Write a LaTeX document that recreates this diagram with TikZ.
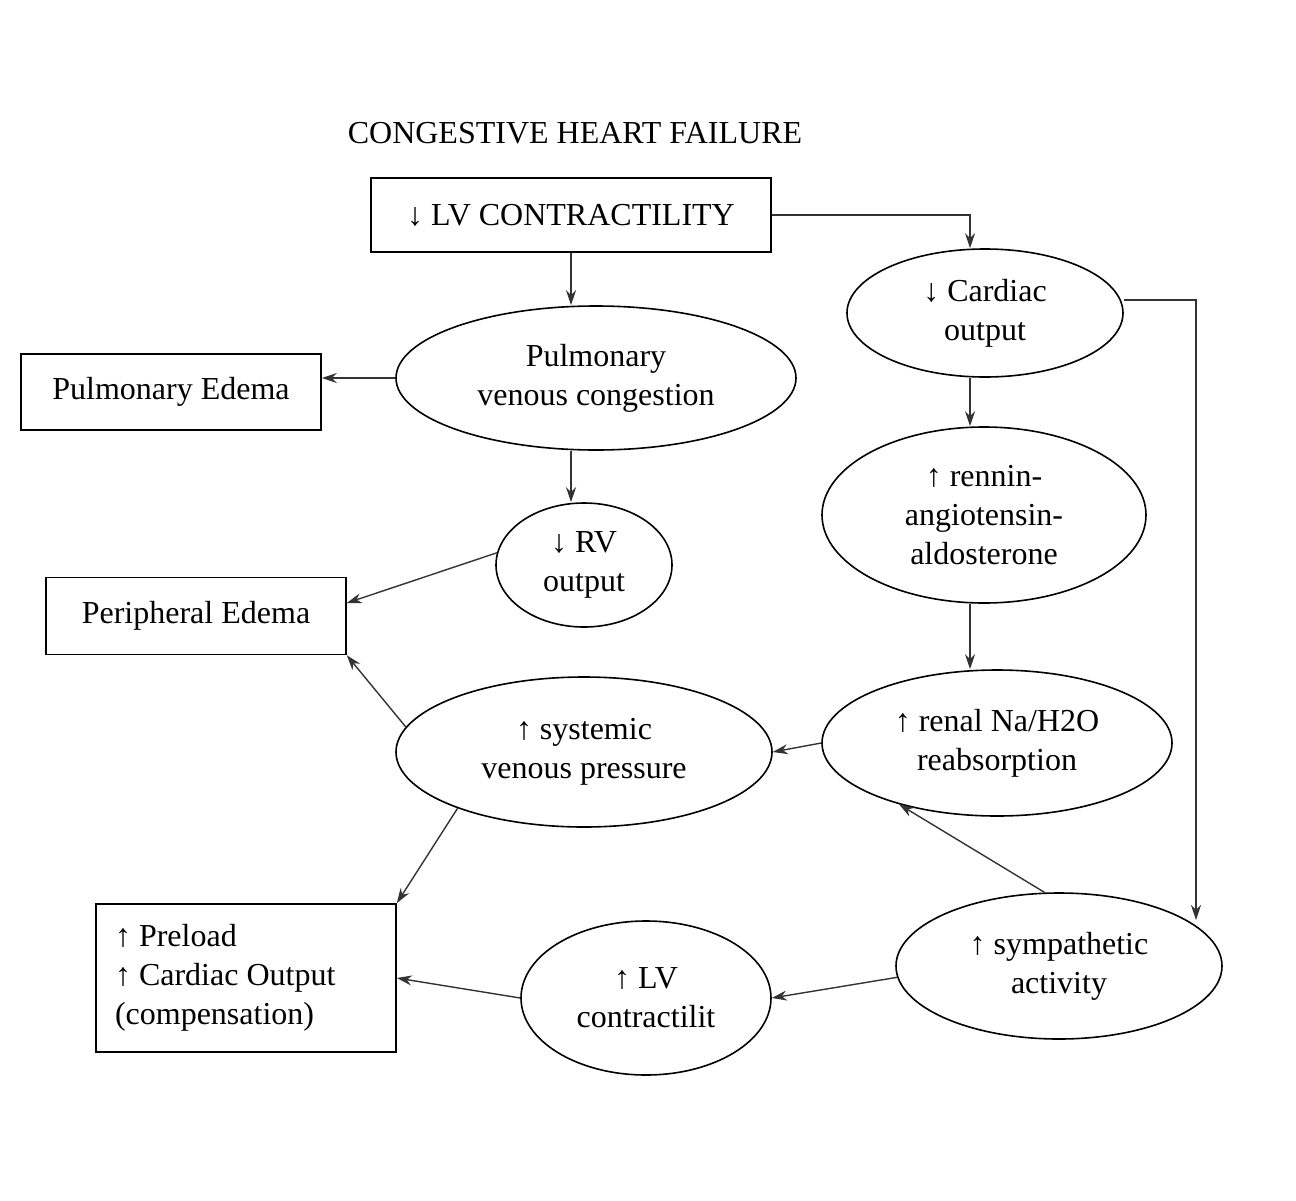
\documentclass[tikz,border=0pt]{standalone}
\usepackage{fontspec}
\setmainfont{Liberation Serif}
\usetikzlibrary{shapes.geometric,arrows.meta,positioning}
\tikzset{
	>={Stealth[length=15pt,width=10pt]},
	box/.style={draw,line width=1.6pt,rectangle,inner sep=0pt},
	oval/.style={draw,line width=1.6pt,ellipse,inner sep=0pt,align=center},
	link/.style={line width=1.4pt,->,draw=black!80}
}
\begin{document}
\begin{tikzpicture}[x=1pt,y=-1pt,font=\fontsize{32}{39}\selectfont]
	\useasboundingbox (0,0) rectangle (1296,1200);
	% Title
	\node (title) at (575,133) {CONGESTIVE HEART FAILURE};
	% Boxes
	\node[box,minimum width=400pt,minimum height=74pt] (lvc) at (571,215) {↓ LV CONTRACTILITY};
	\node[box,minimum width=300pt,minimum height=76pt] (pulmed) at (171,392) {Pulmonary Edema};
	\node[box,minimum width=300pt,minimum height=77pt] (perised) at (196,616) {Peripheral Edema};
	\node[box,minimum width=300pt,minimum height=148pt,text width=262pt,align=flush left] (preload) at (246,978) {↑ Preload\\↑ Cardiac Output\\(compensation)};
	% Ovals
	\node[oval,minimum width=400pt,minimum height=144pt] (pvc) at (596,378) {Pulmonary\\venous congestion};
	\node[oval,minimum width=176pt,minimum height=124pt] (rv) at (584,565) {↓ RV\\output};
	\node[oval,minimum width=376pt,minimum height=150pt] (svp) at (584,752) {↑ systemic\\venous pressure};
	\node[oval,minimum width=250pt,minimum height=154pt] (lvup) at (646,998) {↑ LV\\contractilit};
	\node[oval,minimum width=276pt,minimum height=128pt] (co) at (985,313) {↓ Cardiac\\output};
	\node[oval,minimum width=324pt,minimum height=176pt] (raa) at (984,515) {↑ rennin-\\angiotensin-\\aldosterone};
	\node[oval,minimum width=350pt,minimum height=146pt] (renal) at (997,743) {↑ renal Na/H2O\\reabsorption};
	\node[oval,minimum width=326pt,minimum height=146pt] (symp) at (1059,966) {↑ sympathetic\\activity};
	\coordinate (turn) at (1196,920);
	% Arrows
	\draw[link] (lvc.east) -| (co.north-|970,0);
	\draw[link] (lvc.south) -- (pvc.north-|lvc.south);
	\draw[link] (pvc.west) -- (pulmed.east|-pvc.west);
	\draw[link] (pvc.south-|571,0) -- (rv.north-|571,0);
	\draw[link] (rv.172) -- ([yshift=13pt]perised.east);
	\draw[link] (svp.172) -- (perised.south east);
	\draw[link] (svp.204) -- (preload.north east);
	\draw[link] (co.south-|970,0) -- (raa.north-|970,0);
	\draw[link] (raa.south-|970,0) -- (renal.north-|970,0);
	\draw[link] (renal.west) -- (svp.east);
	\draw[link] (co.east|-0,300) -| (turn);
	\draw[link] (symp.101) -- (renal.212);
	\draw[link] (symp.184) -- (lvup.east);
	\draw[link] (lvup.west) -- (preload.east);
\end{tikzpicture}
\end{document}
